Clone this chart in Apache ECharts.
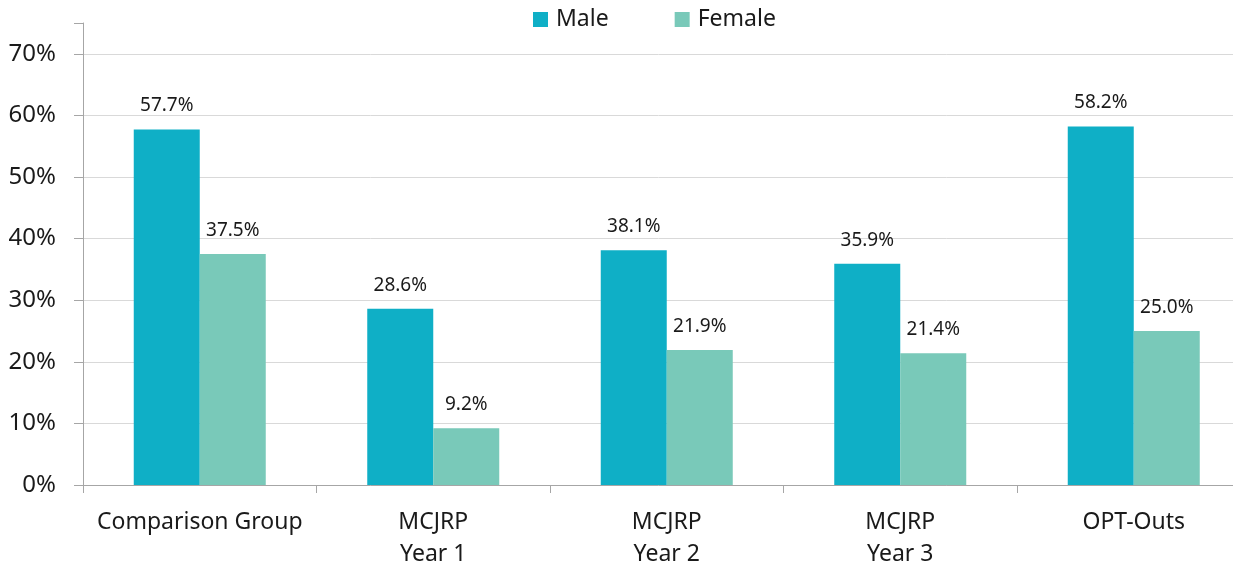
<!DOCTYPE html>
<html>
<head>
<meta charset="utf-8">
<script src="https://cdn.jsdelivr.net/npm/echarts@6/dist/echarts.min.js"></script>
<style>
  html, body { margin: 0; padding: 0; background: #fff; }
  #chart { width: 1233px; height: 564px; }
</style>
</head>
<body>
<div id="chart"></div>
<script>
// Share of each group, by gender (percent)
const categories = ['Comparison Group', 'MCJRP\nYear 1', 'MCJRP\nYear 2', 'MCJRP\nYear 3', 'OPT-Outs'];
const maleValues = [57.7, 28.6, 38.1, 35.9, 58.2];
const femaleValues = [37.5, 9.2, 21.9, 21.4, 25.0];
const seriesNames = ['Male', 'Female'];

const FONT = '"Noto Sans", "Open Sans", sans-serif';
const TEXT = '#1a1a1a';

const chart = echarts.init(document.getElementById('chart'), null, { renderer: 'canvas' });

const labelOpt = {
  show: true,
  position: 'top',
  distance: 14,
  formatter: p => p.value.toFixed(1) + '%',
  fontFamily: FONT,
  fontSize: 19,
  color: TEXT
};

chart.setOption({
  animation: false,
  color: ['#0FAFC6', '#79C9B9'],
  legend: {
    top: 3,
    left: 528,
    itemWidth: 15,
    itemHeight: 15,
    itemGap: 66,
    icon: 'rect',
    textStyle: { fontFamily: FONT, fontSize: 23, color: TEXT, padding: [0, 0, 0, 3] },
    data: seriesNames
  },
  // the last category runs past the right edge of the canvas
  grid: { left: 83, width: 1167.5, top: 23, bottom: 79, containLabel: false, outerBoundsMode: 'none' },
  xAxis: {
    type: 'category',
    data: categories,
    axisLine: { lineStyle: { color: '#a6a6a6', width: 1 } },
    axisTick: { show: true, length: 8, lineStyle: { color: '#a6a6a6' } },
    axisLabel: {
      fontFamily: FONT, fontSize: 23, color: TEXT,
      margin: 21, lineHeight: 32, interval: 0
    }
  },
  yAxis: {
    type: 'value',
    min: 0,
    max: 75,
    interval: 10,
    axisLine: { show: true, lineStyle: { color: '#a6a6a6', width: 1 } },
    axisTick: { show: true, length: 9, lineStyle: { color: '#a6a6a6' } },
    axisLabel: {
      fontFamily: FONT, fontSize: 24, color: TEXT, margin: 27,
      formatter: v => (v % 10 === 0 ? v + '%' : '')
    },
    splitLine: { show: true, showMaxLine: false, lineStyle: { color: '#d9d9d9', width: 1 } }
  },
  series: [
    { name: seriesNames[0], type: 'bar', data: maleValues, barWidth: 66, barGap: '0%', label: labelOpt },
    { name: seriesNames[1], type: 'bar', data: femaleValues, barWidth: 66, barGap: '0%', label: labelOpt }
  ]
});
</script>
</body>
</html>
